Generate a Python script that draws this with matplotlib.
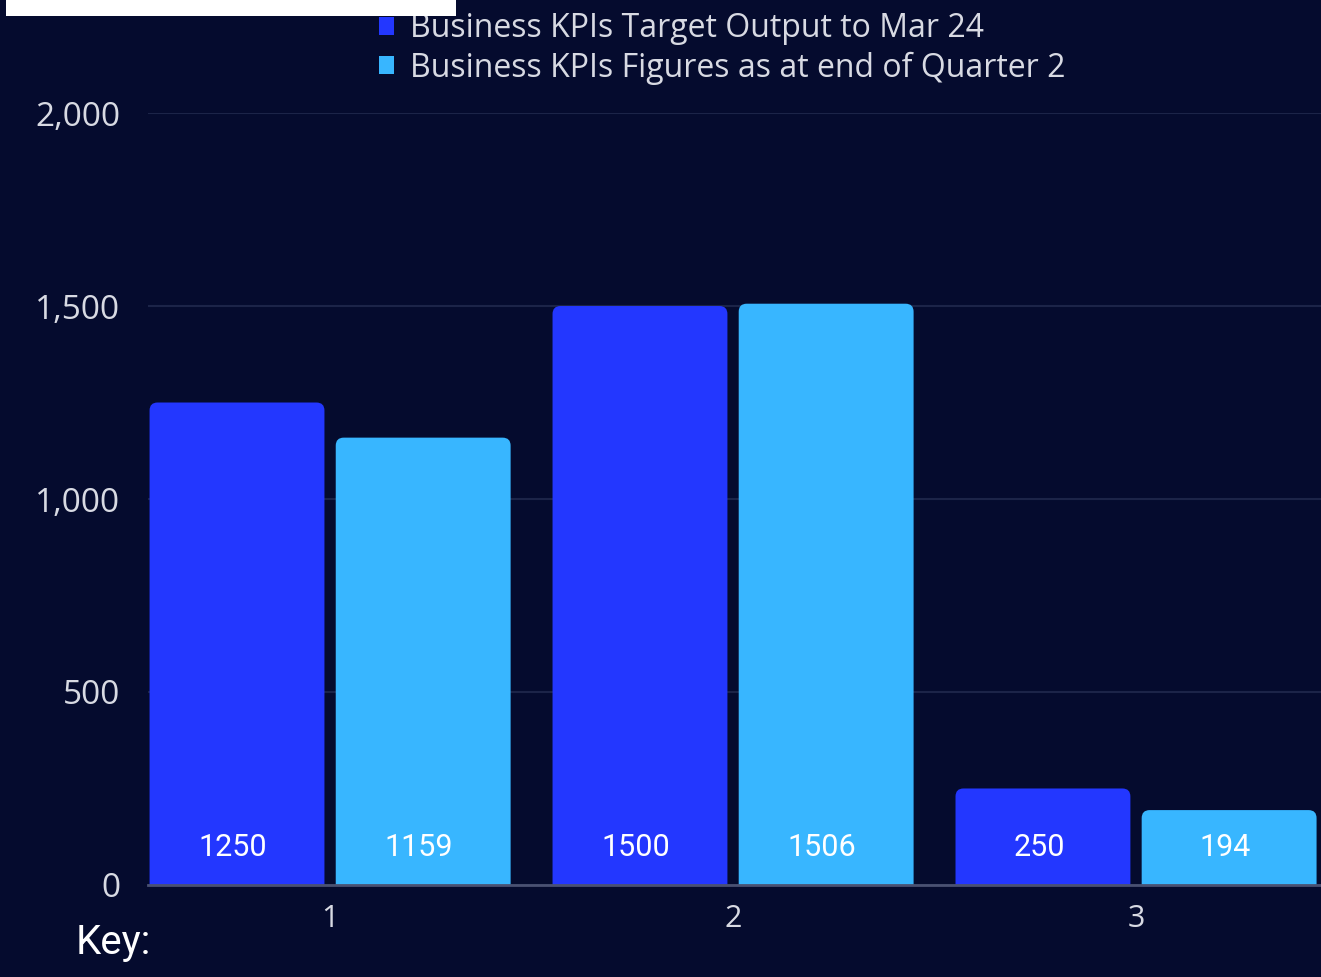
import matplotlib.pyplot as plt
from matplotlib.patches import FancyBboxPatch, Patch, Rectangle
from matplotlib.ticker import FuncFormatter

categories = ["1", "2", "3"]
target = [1250, 1500, 250]
actual = [1159, 1506, 194]
series_names = ["Business KPIs Target Output to Mar 24",
                "Business KPIs Figures as at end of Quarter 2"]

bg = "#050B2E"
c_target = "#2337FF"
c_actual = "#38B6FF"
txt = "#D8DAE3"

fig = plt.figure(figsize=(13.21, 9.77), dpi=100, facecolor=bg)
ax = fig.add_axes([0.112, 0.0942, 0.888, 0.7901], facecolor=bg)

x = list(range(1, len(categories) + 1))
w = 0.434
off = 0.231

# bars with rounded top corners (bottom corners hidden below the x axis)
ylo, yhi = 0, 2000
xlo, xhi = 0.548, 3.459
ax.set_xlim(xlo, xhi)
ax.set_ylim(ylo, yhi)
bbox = ax.get_position()
px_x = (xhi - xlo) / (bbox.width * 1321)
px_y = (yhi - ylo) / (bbox.height * 977)
aspect = px_y / px_x
r = 8 * px_x

for vals, col, sgn in [(target, c_target, -1), (actual, c_actual, 1)]:
    for xi, v in zip(x, vals):
        left = xi + sgn * off - w / 2
        p = FancyBboxPatch((left, -60), w, v + 60,
                           boxstyle=f"round,pad=0,rounding_size={r}",
                           mutation_aspect=aspect, facecolor=col,
                           edgecolor="none", zorder=3)
        ax.add_patch(p)
        ax.annotate(str(v), (xi + sgn * off - 0.01, 0), xytext=(0, 27),
                    textcoords="offset points", ha="center", va="center",
                    color="white", fontsize=22, family="Roboto", zorder=4)

ax.set_yticks([0, 500, 1000, 1500, 2000])
ax.yaxis.set_major_formatter(FuncFormatter(lambda v, p: f"{int(v):,}"))
ax.set_xticks(x)
ax.set_xticklabels(categories)
ax.tick_params(axis="both", length=0, colors=txt)
ax.tick_params(axis="y", pad=20, labelsize=24)
ax.tick_params(axis="x", pad=14, labelsize=22)
for lab in ax.get_xticklabels() + ax.get_yticklabels():
    lab.set_family("Open Sans")

ax.grid(axis="y", color="#1C2448", linewidth=1.5, zorder=0)
ax.set_axisbelow(True)
for s in ["top", "right", "left"]:
    ax.spines[s].set_visible(False)
ax.spines["bottom"].set_color("#4A5172")
ax.spines["bottom"].set_linewidth(2)
ax.spines["bottom"].set_zorder(5)

handles = [Patch(facecolor=c_target, edgecolor="none"),
           Patch(facecolor=c_actual, edgecolor="none")]
leg = fig.legend(handles, series_names, loc="upper left",
                 bbox_to_anchor=(379 / 1321, 1 - 12 / 977), frameon=False,
                 handlelength=0.48, handleheight=0.48, handletextpad=0.5,
                 labelspacing=0.2, borderpad=0, borderaxespad=0,
                 prop={"family": "Open Sans", "size": 23})
for t in leg.get_texts():
    t.set_color(txt)

fig.text(76 / 1321, 1 - 942 / 977, "Key:", color="white", fontsize=29,
         family="Roboto", ha="left", va="center")

fig.patches.append(Rectangle((6 / 1321, 1 - 16 / 977), 450 / 1321, 16 / 977,
                             transform=fig.transFigure, facecolor="white",
                             edgecolor="none", zorder=10))

fig.savefig("out.png", dpi=100, facecolor=bg)
